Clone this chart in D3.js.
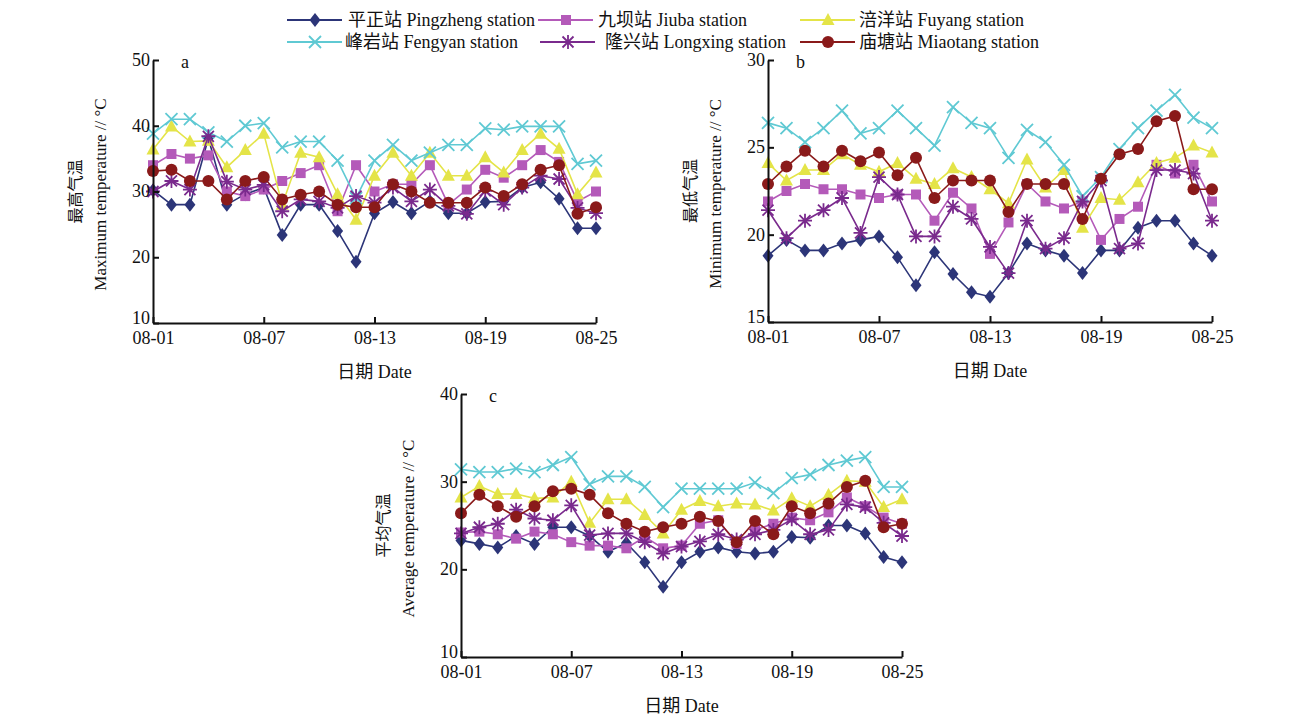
<!DOCTYPE html>
<html>
<head>
<meta charset="utf-8">
<script src="https://cdn.jsdelivr.net/npm/d3@7"></script>
<style>
  body { margin: 0; background: #fff; }
  svg text { font-family: 'Liberation Serif', 'Noto Sans CJK SC', serif; fill: #111; }
</style>
</head>
<body>
<svg id="chart" width="1302" height="717"></svg>
<script>
const dates = ['08-01', '08-02', '08-03', '08-04', '08-05', '08-06', '08-07', '08-08', '08-09',
  '08-10', '08-11', '08-12', '08-13', '08-14', '08-15', '08-16', '08-17', '08-18', '08-19',
  '08-20', '08-21', '08-22', '08-23', '08-24', '08-25'];
const dateTicks = ['08-01', '08-07', '08-13', '08-19', '08-25'];
const stations = ['平正站 Pingzheng station', '九坝站 Jiuba station', '涪洋站 Fuyang station',
  '峰岩站 Fengyan station', '隆兴站 Longxing station', '庙塘站 Miaotang station'];

// a: daily maximum temperature
const maxPingzheng = [30.2, 28, 28, 38.1, 28, 29.6, 30.6, 23.4, 28, 28, 24, 19.3, 26.7, 28.4, 26.7, 28.5, 26.7, 26.7, 28.4, 28.5, 30.6, 31.4, 28.9, 24.4, 24.4];
const maxJiuba = [34, 35.7, 35, 35.5, 30, 29.3, 30.3, 31.6, 32.8, 34, 27, 34, 30, 31.1, 31.1, 34, 28, 30.3, 33.3, 32.1, 34, 36.3, 34.5, 28.5, 30];
const maxFuyang = [36.4, 39.9, 37.6, 37.7, 33.7, 36.3, 38.8, 28, 35.9, 35.2, 29.6, 25.7, 32.4, 35.9, 32.4, 35.9, 32.4, 32.4, 35.2, 32.9, 36.3, 38.8, 36.5, 29.6, 32.9];
const maxFengyan = [38.8, 41, 41, 39, 37.6, 40, 40.4, 36.7, 37.6, 37.6, 34.7, 29, 34.7, 37.1, 34.7, 35.9, 37.1, 37.1, 39.6, 39.4, 39.9, 39.9, 39.9, 34.2, 34.7];
const maxLongxing = [30, 31.6, 30.3, 38.4, 31.5, 30.3, 31, 27, 28.8, 28.5, 27.5, 29.3, 28.3, 30.6, 28.5, 30.3, 27.8, 26.6, 30.1, 28, 30.6, 32.4, 31.9, 27.5, 26.7];
const maxMiaotang = [33.1, 33.3, 31.6, 31.6, 28.8, 31.6, 32.2, 28.8, 29.5, 30, 28, 27.6, 27.6, 31.1, 30, 28.3, 28.3, 28.3, 30.6, 29.3, 31.1, 33.3, 34, 26.6, 27.6];

// b: daily minimum temperature
const minPingzheng = [18.8, 19.7, 19.1, 19.1, 19.5, 19.7, 19.9, 18.7, 17.1, 19, 17.75, 16.7, 16.45, 17.8, 19.5, 19.1, 18.8, 17.8, 19.1, 19.1, 20.4, 20.8, 20.8, 19.5, 18.8];
const minJiuba = [21.9, 22.5, 22.9, 22.6, 22.6, 22.3, 22.1, 22.3, 22.3, 20.8, 22.4, 21.5, 18.9, 20.7, 22.9, 21.9, 21.5, 21.9, 19.7, 20.9, 21.6, 24, 23.5, 24, 21.9];
const minFuyang = [24.1, 23.1, 23.7, 23.7, 24.6, 24, 23.6, 24.1, 23.2, 22.9, 23.8, 23.3, 22.6, 21.8, 24.3, 22.7, 23.7, 20.4, 22.1, 22, 23, 24.1, 24.4, 25.1, 24.7];
const minFengyan = [26.4, 26.1, 25.3, 26.1, 27.1, 25.8, 26.1, 27.1, 26.1, 25.1, 27.3, 26.4, 26.1, 24.4, 26, 25.3, 24, 22.2, 23.3, 24.9, 26.1, 27.1, 28, 26.7, 26.1];
const minLongxing = [21.4, 19.8, 20.8, 21.4, 22.1, 20.1, 23.3, 22.3, 19.9, 19.9, 21.6, 20.9, 19.3, 17.8, 20.8, 19.2, 19.8, 21.9, 23.1, 19.2, 19.5, 23.7, 23.7, 23.5, 20.8];
const minMiaotang = [22.9, 23.9, 24.8, 23.9, 24.8, 24.2, 24.7, 23.4, 24.4, 22.1, 23.1, 23.1, 23.1, 21.3, 22.9, 22.9, 22.9, 20.9, 23.2, 24.6, 24.9, 26.5, 26.8, 22.6, 22.6];

// c: daily average temperature
const avgPingzheng = [23.3, 22.9, 22.5, 23.8, 22.9, 24.8, 24.8, 23.8, 22, 23, 20.8, 18, 20.8, 22, 22.5, 22, 21.8, 22, 23.7, 23.6, 25, 25, 24.1, 21.4, 20.8];
const avgJiuba = [24.2, 24.3, 24, 23.5, 24.3, 24, 23.1, 22.7, 22.7, 22.4, 23.7, 22.4, 22.7, 25.2, 25.6, 22.9, 24.5, 25.2, 25.9, 25.6, 26.5, 28.2, 27.2, 25.9, 25.2];
const avgFuyang = [28.2, 29.5, 28.6, 28.6, 28.1, 28.2, 30, 25.3, 28, 28, 26.2, 24.1, 26.8, 27.8, 27.2, 27.5, 27.4, 26.7, 28.1, 27.2, 28.5, 30.1, 30, 27.1, 28];
const avgFengyan = [31.4, 31.1, 31.1, 31.5, 31.1, 31.9, 32.8, 29.7, 30.6, 30.6, 29.4, 27.1, 29.2, 29.2, 29.2, 29.2, 29.9, 28.7, 30.4, 30.8, 31.9, 32.4, 32.8, 29.4, 29.4];
const avgLongxing = [24.1, 24.8, 25.2, 26.8, 25.8, 25.6, 27.3, 23.9, 24.1, 24.1, 23.1, 21.8, 22.6, 23.2, 24, 23.4, 24, 24.5, 25.7, 24, 24.5, 27.4, 27.1, 25.3, 23.8];
const avgMiaotang = [26.4, 28.5, 27.2, 26, 27.2, 28.9, 29.2, 28.5, 26.4, 25.2, 24.3, 24.8, 25.2, 26, 25.5, 23.1, 25.5, 24, 27.2, 26.4, 27.5, 29.4, 30.1, 24.8, 25.2];

const colors = ['#2c3578', '#b45ab9', '#e4e448', '#5fc9d3', '#7a2a8d', '#8a1a1a'];
const markers = ['diamond', 'square', 'triangle', 'x', 'asterisk', 'circle'];

const panels = [
  { letter: 'a', cn: '最高气温', en: 'Maximum temperature // °C', domain: [10, 50], ticks: [10, 20, 30, 40, 50],
    x0: 153, x1: 596, y0: 60, y1: 323,
    series: [maxPingzheng, maxJiuba, maxFuyang, maxFengyan, maxLongxing, maxMiaotang] },
  { letter: 'b', cn: '最低气温', en: 'Minimum temperature // °C', domain: [15, 30], ticks: [15, 20, 25, 30],
    x0: 768, x1: 1212, y0: 60, y1: 322,
    series: [minPingzheng, minJiuba, minFuyang, minFengyan, minLongxing, minMiaotang] },
  { letter: 'c', cn: '平均气温', en: 'Average temperature // °C', domain: [10, 40], ticks: [10, 20, 30, 40],
    x0: 461, x1: 902, y0: 394, y1: 657,
    series: [avgPingzheng, avgJiuba, avgFuyang, avgFengyan, avgLongxing, avgMiaotang] }
];

const markerPath = type => {
  switch (type) {
    case 'diamond': return 'M0,-7L5.5,0L0,7L-5.5,0Z';
    case 'square': return 'M-5,-5H5V5H-5Z';
    case 'triangle': return 'M0,-7L6.5,5L-6.5,5Z';
    case 'circle': return 'M-6,0A6,6 0 1,0 6,0A6,6 0 1,0 -6,0Z';
    case 'x': return 'M-6,-6L6,6M6,-6L-6,6';
    default: return 'M-5.5,-5.5L5.5,5.5M5.5,-5.5L-5.5,5.5M0,-7V7M-7,0H7';
  }
};
const isStroked = type => type === 'x' || type === 'asterisk';

const drawMarker = (sel, i) => {
  const type = markers[i];
  sel.append('path')
    .attr('d', markerPath(type))
    .attr('fill', isStroked(type) ? 'none' : colors[i])
    .attr('stroke', isStroked(type) ? colors[i] : 'none')
    .attr('stroke-width', 1.8);
};

const svg = d3.select('#chart');

panels.forEach(p => {
  const x = d3.scalePoint().domain(dates).range([p.x0, p.x1]);
  const y = d3.scaleLinear().domain(p.domain).range([p.y1, p.y0]);
  const g = svg.append('g');

  p.series.forEach((values, i) => {
    const line = d3.line().x((d, k) => x(dates[k])).y(d => y(d));
    g.append('path')
      .datum(values)
      .attr('d', line)
      .attr('fill', 'none')
      .attr('stroke', colors[i])
      .attr('stroke-width', 1.6);
    g.selectAll(null)
      .data(values)
      .enter()
      .append('g')
      .attr('transform', (d, k) => `translate(${x(dates[k])},${y(d)})`)
      .each(function () { drawMarker(d3.select(this), i); });
  });

  const xAxis = d3.axisBottom(x).tickValues(dateTicks).tickSizeInner(-6).tickSizeOuter(0).tickPadding(8);
  const yAxis = d3.axisLeft(y).tickValues(p.ticks).tickSizeInner(-6).tickSizeOuter(0).tickPadding(3);

  const gx = g.append('g').attr('transform', `translate(0,${p.y1})`).call(xAxis);
  const gy = g.append('g').attr('transform', `translate(${p.x0},0)`).call(yAxis);
  [gx, gy].forEach(ax => {
    ax.selectAll('path, line').attr('stroke', '#111').attr('stroke-width', 2);
    ax.selectAll('text').attr('font-size', 18).attr('fill', '#111');
  });
  // the lowest value label sits a little above its tick, as in the original
  gy.selectAll('text').attr('dy', d => d === p.domain[0] ? '0.05em' : '0.3em');

  g.append('text')
    .attr('x', p.x0 + 28)
    .attr('y', p.y0 + 8)
    .attr('font-size', 18)
    .text(p.letter);

  const cy = (p.y0 + p.y1) / 2;
  g.append('text')
    .attr('transform', `translate(${p.x0 - 78},${cy}) rotate(-90)`)
    .attr('text-anchor', 'middle')
    .attr('dominant-baseline', 'central')
    .attr('font-size', 16)
    .text(p.cn);
  g.append('text')
    .attr('transform', `translate(${p.x0 - 53},${cy + 3}) rotate(-90)`)
    .attr('text-anchor', 'middle')
    .attr('dominant-baseline', 'central')
    .attr('font-size', 17)
    .text(p.en);

  g.append('text')
    .attr('x', (p.x0 + p.x1) / 2)
    .attr('y', p.y1 + 55)
    .attr('text-anchor', 'middle')
    .attr('font-size', 18)
    .text('日期 Date');
});

// legend
const legendPos = [[287, 20], [538, 20], [800, 20], [287, 42], [540, 42], [800, 42]];
const legendTextX = [348, 598, 859, 345, 605, 859];
const legend = svg.append('g');
stations.forEach((name, i) => {
  const [lx, ly] = legendPos[i];
  const item = legend.append('g');
  item.append('line')
    .attr('x1', lx).attr('x2', lx + 55)
    .attr('y1', ly).attr('y2', ly)
    .attr('stroke', colors[i])
    .attr('stroke-width', 1.8);
  drawMarker(item.append('g').attr('transform', `translate(${lx + 28},${ly})`), i);
  item.append('text')
    .attr('x', legendTextX[i])
    .attr('y', ly)
    .attr('dominant-baseline', 'central')
    .attr('font-size', 18)
    .text(name);
});
</script>
</body>
</html>
